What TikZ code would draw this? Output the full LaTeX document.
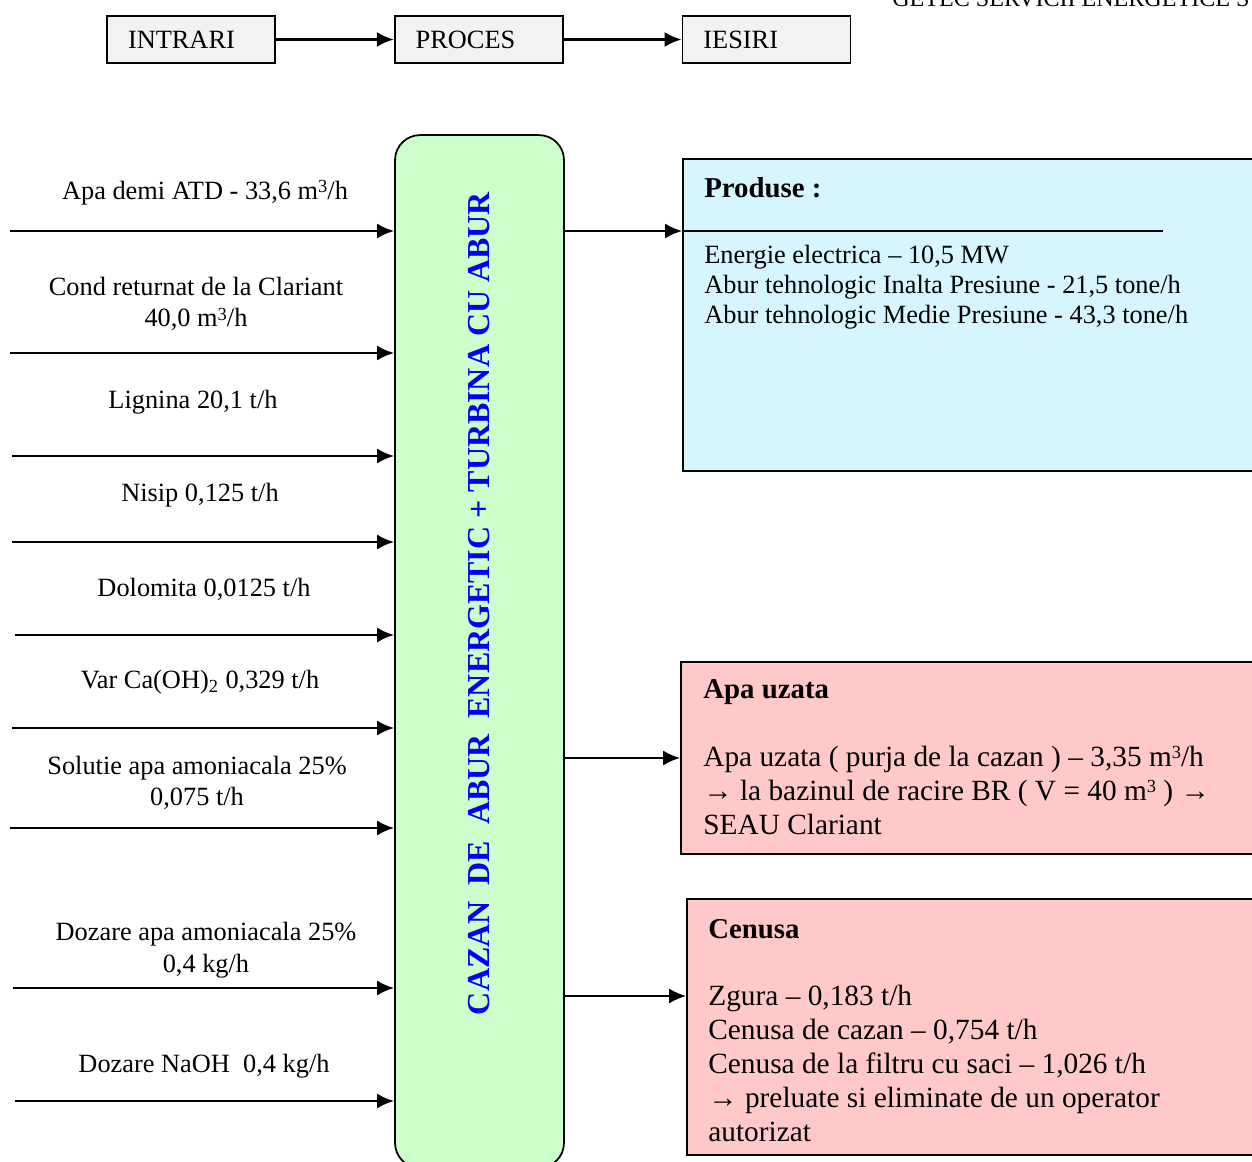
\documentclass[tikz,border=0pt]{standalone}
\usepackage{fontspec}
\setmainfont{Liberation Serif}
\usetikzlibrary{arrows.meta, positioning}

\definecolor{procgreen}{RGB}{204,255,204}
\definecolor{prodcyan}{RGB}{214,245,255}
\definecolor{wastepink}{RGB}{255,201,201}
\definecolor{topgray}{RGB}{242,242,242}

\newcommand{\cubic}{\raisebox{0.55ex}{\fontsize{10.5}{10}\selectfont 3}}

\tikzset{
  topbox/.style={draw, fill=topgray, line width=1pt, text width=2.52cm,
    inner xsep=0.42cm, align=left, minimum height=0.94cm,
    font=\fontsize{15}{18}\selectfont},
  flow/.style={->, line width=1.4pt},
  inlabel/.style={align=center, inner sep=0pt, font=\fontsize{15}{18}\selectfont},
  outbox/.style={draw, line width=1pt, inner sep=0pt},
  outhead/.style={anchor=west, inner sep=0pt, font=\bfseries\fontsize{16.4}{19}\selectfont},
  outtext/.style={anchor=west, align=left, inner sep=0pt}
}

\begin{document}
\begin{tikzpicture}[x=0.02cm, y=-0.02cm, >={Latex[length=0.34cm,width=0.3cm]}]
\useasboundingbox (0,0) rectangle (1252,1162);
\clip (0,0) rectangle (1252,1162);

% header
\node[anchor=base west, inner sep=0pt, font=\fontsize{13.7}{16}\selectfont] (firma) at (892,7) {GETEC SERVICII ENERGETICE S};

\node[topbox] (intrari) at (191,39.5) {INTRARI};
\node[topbox, right=2.36cm of intrari] (proces) {PROCES};
\node[topbox, right=2.36cm of proces] (iesiri) {IESIRI};
\draw[flow] (intrari) -- (proces);
\draw[flow] (proces) -- (iesiri);

% proces
\node[draw, fill=procgreen, line width=1pt, rounded corners=0.5cm,
  minimum width=3.38cm, minimum height=20.66cm] (cazan) at (479.5,651.5) {};
\node[rotate=90, text=blue, font=\bfseries\fontsize{18.2}{20}\selectfont] (cazantxt) at (479,603.5)
  {CAZAN\ \ DE\ \ ABUR\ \ ENERGETIC + TURBINA CU ABUR};

% intrari
\foreach \i/\ya/\xa/\yl/\xl/\txt in {
  1/231/10/193/205/{Apa demi ATD - 33,6 m\cubic/h},
  2/353/10/304/196/{Cond returnat de la Clariant\\40,0 m\cubic/h},
  3/456/12/402/193/{Lignina 20,1 t/h},
  4/542/12/495/200/{Nisip 0,125 t/h},
  5/635/15/589/204/{Dolomita 0,0125 t/h},
  6/728/12/682/200/{Var Ca(OH)\textsubscript{2} 0,329 t/h},
  7/828/10/783/197/{Solutie apa amoniacala 25\%\\0,075 t/h},
  8/988/13/950/206/{Dozare apa amoniacala 25\%\\0,4 kg/h},
  9/1101/15/1066/204/{Dozare NaOH\ \ 0,4 kg/h}} {
  \coordinate (in\i) at (\xa,\ya);
  \node[inlabel] (lbl\i) at (\xl,\yl) {\txt};
  \draw[flow] (in\i) -- (in\i -| cazan.west);
}

% iesiri
\node[outbox, fill=prodcyan, minimum width=11.74cm, minimum height=6.24cm] (produse) at (976.5,315) {};
\node[outhead] (produsehead) at (704,188) {Produse :};
\node[outtext, font=\fontsize{15}{17}\selectfont] (produsetxt) at (704,287)
  {Energie electrica -- 10,5 MW\\Abur tehnologic Inalta Presiune - 21,5 tone/h\\Abur tehnologic Medie Presiune - 43,3 tone/h};
\coordinate (prodrule) at (1163,231);
\draw[flow] (cazan.east |- prodrule) -- (produse.west |- prodrule);
\draw[line width=1.4pt] (produse.west |- prodrule) -- (prodrule);

\node[outbox, fill=wastepink, minimum width=11.78cm, minimum height=3.84cm] (apa) at (975.5,758) {};
\node[outhead] (apahead) at (703,692) {Apa uzata};
\node[outtext, font=\fontsize{16.7}{19.35}\selectfont] (apatxt) at (703,790)
  {Apa uzata ( purja de la cazan ) -- 3,35 m\cubic/h\\→ la bazinul de racire BR ( V = 40 m\cubic\ ) →\\SEAU Clariant};
\draw[flow] (cazan.east |- apa.west) -- (apa.west);

\node[outbox, fill=wastepink, minimum width=11.66cm, minimum height=5.12cm] (cenusa) at (978.5,1027) {};
\node[outhead] (cenusahead) at (708,929) {Cenusa};
\node[outtext, font=\fontsize{16.7}{19.35}\selectfont] (cenusatxt) at (708,1063)
  {Zgura -- 0,183 t/h\\Cenusa de cazan -- 0,754 t/h\\Cenusa de la filtru cu saci -- 1,026 t/h\\→ preluate si eliminate de un operator\\autorizat};
\coordinate (cenusaout) at (687,996);
\draw[flow] (cazan.east |- cenusaout) -- (cenusa.west |- cenusaout);
\end{tikzpicture}
\end{document}
